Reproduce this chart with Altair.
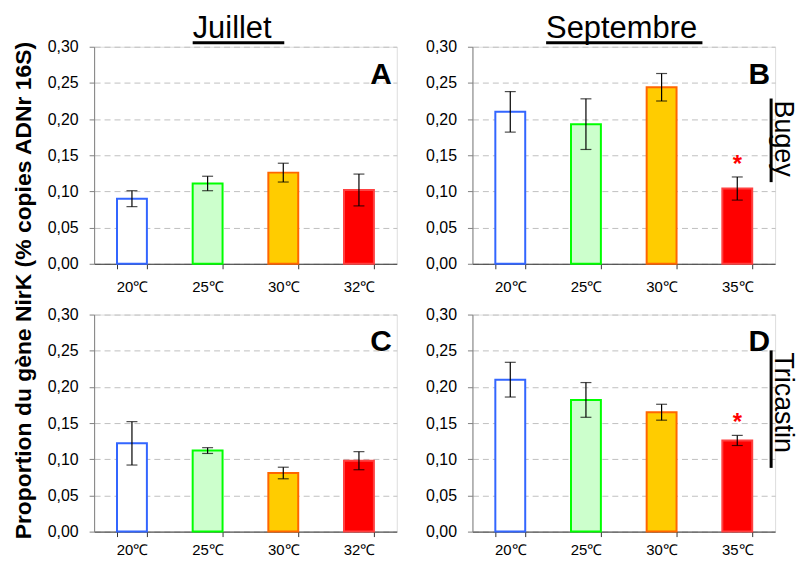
import altair as alt
import pandas as pd

FONT = "Liberation Sans"

temps_juillet = ["20℃", "25℃", "30℃", "32℃"]
temps_septembre = ["20℃", "25℃", "30℃", "35℃"]
fill_colors = ["#FFFFFF", "#CCFFCC", "#FFCC00", "#FF0000"]
stroke_colors = ["#3366FF", "#00FF00", "#FF6600", "#FF4040"]

bugey_juillet = [0.090, 0.111, 0.126, 0.102]
bugey_juillet_err = [0.011, 0.010, 0.013, 0.022]
bugey_sept = [0.210, 0.193, 0.244, 0.104]
bugey_sept_err = [0.028, 0.035, 0.019, 0.016]
tric_juillet = [0.122, 0.112, 0.081, 0.098]
tric_juillet_err = [0.030, 0.004, 0.008, 0.0125]
tric_sept = [0.210, 0.182, 0.165, 0.126]
tric_sept_err = [0.024, 0.024, 0.011, 0.007]
no_sig = [False, False, False, False]
bugey_sept_sig = [False, False, False, True]
tric_sept_sig = [False, False, False, True]

y_ticks = [0.0, 0.05, 0.10, 0.15, 0.20, 0.25, 0.30]

W, H = 304, 218
ONE = alt.Data(values=[{}])

Y_SCALE = alt.Scale(domain=[0, 0.3], nice=False, zero=True)
Y_AXIS = alt.Axis(title=None, values=y_ticks, grid=True, gridDash=[6, 4],
                  gridColor="#C0C0C0", gridWidth=1, domainColor="#808080",
                  tickColor="#808080", tickSize=5, labelPadding=11,
                  labelOverlap=False, tickCount=7,
                  labelFont=FONT, labelFontSize=16, labelColor="#000000",
                  labelExpr="replace(format(datum.value, '.2f'), '.', ',')")


def panel(temps, vals, errs, sig, letter, extras, label_pad):
    df = pd.DataFrame({"temp": temps, "value": vals, "err": errs, "sig": sig,
                       "fill": fill_colors, "stroke": stroke_colors})
    df["lo"] = df["value"] - df["err"]
    df["hi"] = df["value"] + df["err"]
    base = alt.Chart(df)
    x_axis = alt.Axis(title=None, labelAngle=0, tickBand="extent", grid=False,
                      domainColor="#333333", tickColor="#333333", tickSize=5,
                      labelFont=FONT, labelFontSize=15, labelColor="#000000",
                      labelPadding=label_pad)
    x_scale = alt.Scale(paddingInner=0.605, paddingOuter=0.3025)
    x = alt.X("temp:N", sort=temps, scale=x_scale, axis=x_axis)
    bars = base.mark_bar(strokeWidth=2).encode(
        x=x, y=alt.Y("value:Q", scale=Y_SCALE, axis=Y_AXIS),
        fill=alt.Fill("fill:N", scale=None),
        stroke=alt.Stroke("stroke:N", scale=None))
    rules = base.mark_rule(color="black", strokeWidth=1.2).encode(
        x=x, y=alt.Y("lo:Q", scale=Y_SCALE, axis=Y_AXIS), y2="hi:Q")
    cap_lo = base.mark_tick(color="black", size=11, thickness=1.2).encode(
        x=x, y=alt.Y("lo:Q", scale=Y_SCALE, axis=Y_AXIS))
    cap_hi = base.mark_tick(color="black", size=11, thickness=1.2).encode(
        x=x, y=alt.Y("hi:Q", scale=Y_SCALE, axis=Y_AXIS))
    stars = base.transform_filter("datum.sig").mark_text(
        text="*", color="#FF0000", fontSize=24, fontWeight="bold", font=FONT,
        baseline="alphabetic", dy=-5).encode(
        x=x, y=alt.Y("hi:Q", scale=Y_SCALE, axis=Y_AXIS))
    letter_t = alt.Chart(ONE).mark_text(
        text=letter, fontSize=30, fontWeight="bold", font=FONT, align="right",
        baseline="alphabetic").encode(x=alt.value(W - 5), y=alt.value(37))
    return alt.layer(bars, rules, cap_lo, cap_hi, stars, letter_t, *extras).properties(
        width=W, height=H)


def top_title(text, x0, length):
    t = alt.Chart(ONE).mark_text(text=text, fontSize=31, font=FONT, align="left",
                                 baseline="alphabetic", color="#000000").encode(
        x=alt.value(x0), y=alt.value(-8.5))
    u = alt.Chart(ONE).mark_rule(color="#000000", strokeWidth=3).encode(
        x=alt.value(x0), x2=alt.value(x0 + length), y=alt.value(-4))
    return [t, u]


def side_label(text, y0, length):
    t = alt.Chart(ONE).mark_text(text=text, fontSize=27, font=FONT, angle=90, align="left",
                                 baseline="alphabetic", color="#000000").encode(
        x=alt.value(W), y=alt.value(y0))
    u = alt.Chart(ONE).mark_rule(color="#000000", strokeWidth=3).encode(
        x=alt.value(W - 4), y=alt.value(y0 - 2), y2=alt.value(y0 - 2 + length))
    return [t, u]


ytitle = alt.Chart(ONE).mark_text(
    text="Proportion du gène NirK (% copies ADNr 16S)", fontSize=23, fontWeight="bold",
    font=FONT, angle=270, align="center", baseline="middle", color="#000000").encode(
    x=alt.value(-70), y=alt.value(245))

pA = panel(temps_juillet, bugey_juillet, bugey_juillet_err, no_sig, "A",
           top_title("Juillet", 99, 92) + [ytitle], 11)
pB = panel(temps_septembre, bugey_sept, bugey_sept_err, bugey_sept_sig, "B",
           top_title("Septembre", 74, 157) + side_label("Bugey", 54, 84), 11)
pC = panel(temps_juillet, tric_juillet, tric_juillet_err, no_sig, "C", [], 6)
pD = panel(temps_septembre, tric_sept, tric_sept_err, tric_sept_sig, "D",
           side_label("Tricastin", 38, 118), 6)

chart = alt.concat(pA, pB, pC, pD, columns=2, spacing={"row": 51, "column": 76},
                   bounds="flush").resolve_scale(x="independent", y="independent").properties(
    padding={"left": 4.5, "top": 3.7, "right": 0, "bottom": 0}
).configure_view(stroke=None).configure(font=FONT)

chart.save("out.html", embed_options={"renderer": "svg", "actions": False})
